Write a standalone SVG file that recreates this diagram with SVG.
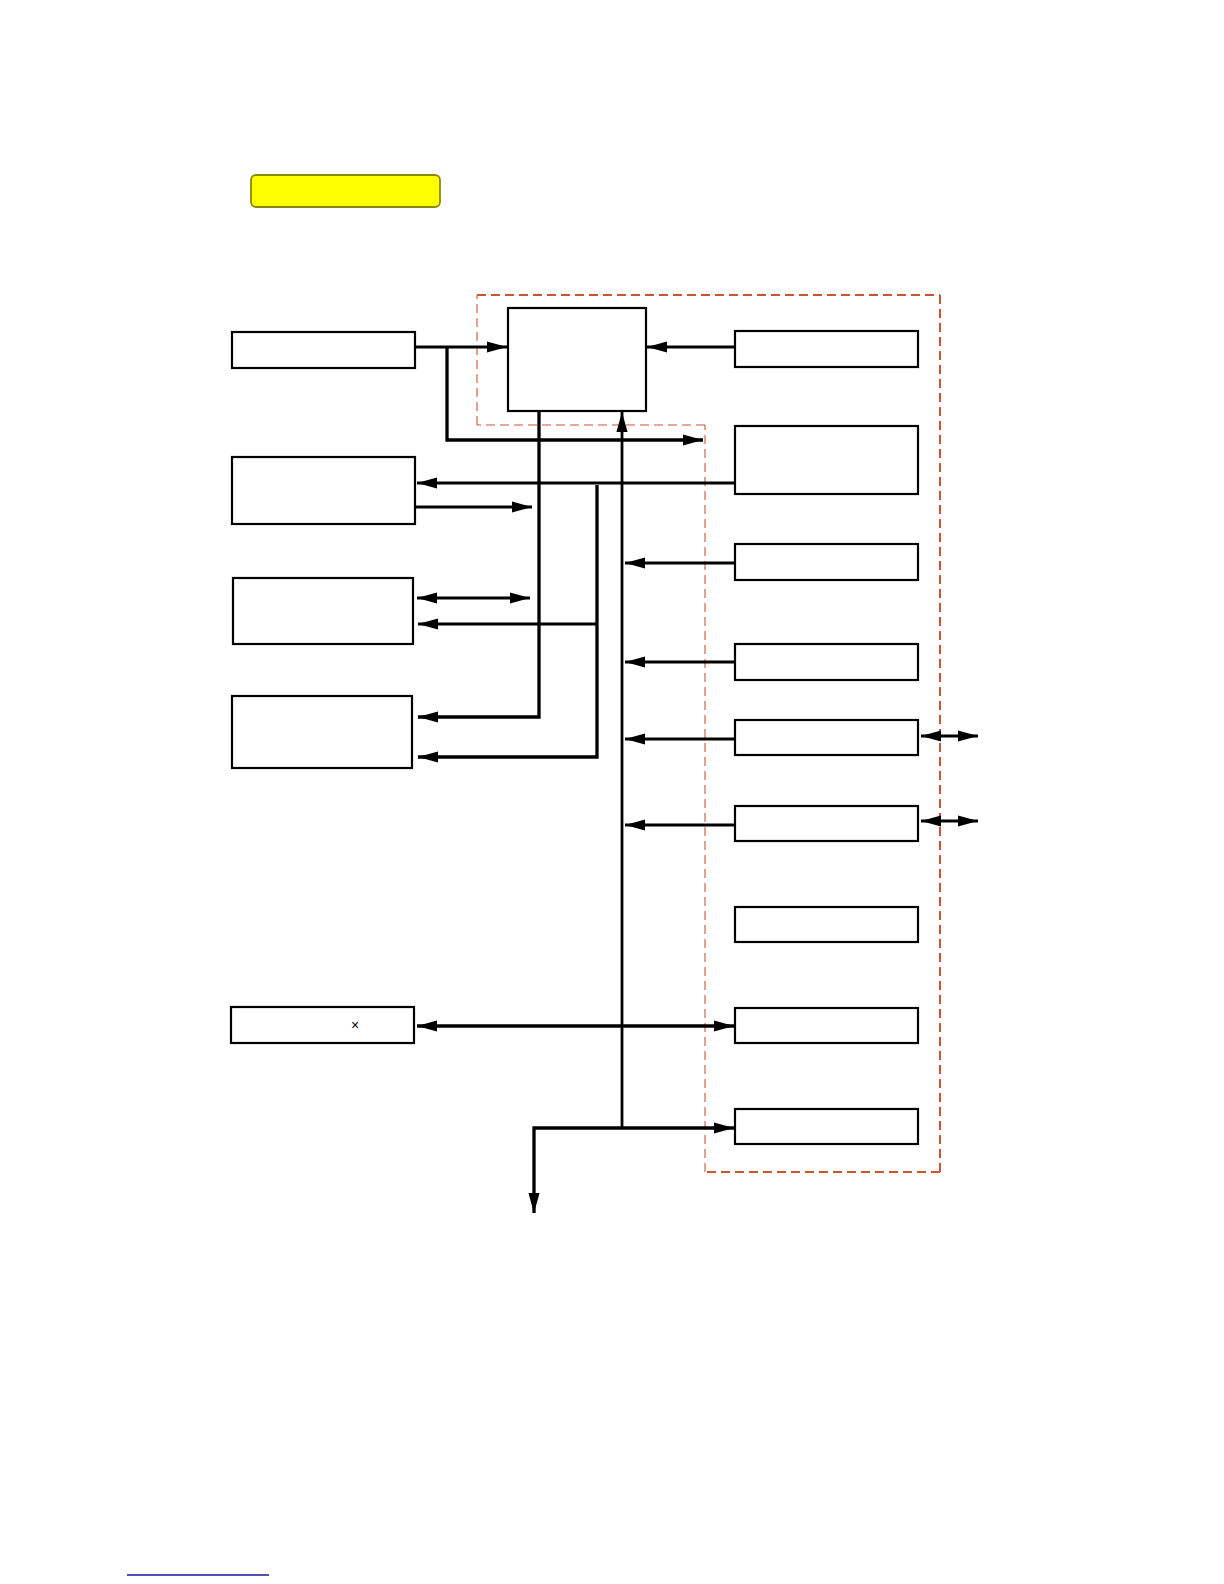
<svg xmlns="http://www.w3.org/2000/svg" width="1224" height="1584" viewBox="0 0 1224 1584">
<style>
.box{fill:#fff;stroke:#000;stroke-width:2.2}
.c{fill:none;stroke:#000;stroke-width:2.8}
.ct{fill:none;stroke:#000;stroke-width:3.3}
.dth{fill:none;stroke:#cc5533;stroke-width:2;stroke-dasharray:9 5}
.dtn{fill:none;stroke:#cc5533;stroke-width:1.1;stroke-dasharray:9 5}
.lbl{font-family:"Liberation Sans",Arial,sans-serif;font-size:14px;fill:#000}
</style>
<defs>
<marker id="ah" markerUnits="userSpaceOnUse" markerWidth="20" markerHeight="12" viewBox="0 0 18 10" refX="18" refY="5" orient="auto-start-reverse">
<path d="M0,0 L18,5 L0,10 z" fill="#000"/>
</marker>
</defs>
<rect width="1224" height="1584" fill="#fff"/>
<g id="title">
<rect x="251" y="175" width="189" height="32" rx="5" fill="#ffff00" stroke="#8a8a00" stroke-width="1.8"/>
</g>
<g id="region">
<line class="dth" x1="477" y1="295" x2="940" y2="295"/>
<line class="dth" x1="940" y1="295" x2="940" y2="1172"/>
<line class="dth" x1="940" y1="1172" x2="705" y2="1172"/>
<line class="dtn" x1="705" y1="1172" x2="705" y2="425"/>
<line class="dtn" x1="705" y1="425" x2="477" y2="425"/>
<line class="dtn" x1="477" y1="425" x2="477" y2="295"/>
</g>
<g id="n-cpu"><rect class="box" x="508" y="308" width="138" height="103"/></g>
<g id="n-a"><rect class="box" x="232" y="332" width="183" height="36"/></g>
<g id="n-b"><rect class="box" x="232" y="457" width="183" height="67"/></g>
<g id="n-c"><rect class="box" x="233" y="578" width="180" height="66"/></g>
<g id="n-d"><rect class="box" x="232" y="696" width="180" height="72"/></g>
<g id="n-e"><rect class="box" x="231" y="1007" width="183" height="36"/><text class="lbl" x="355" y="1030" text-anchor="middle">×</text></g>
<g id="n-r1"><rect class="box" x="735" y="331" width="183" height="36"/></g>
<g id="n-r2"><rect class="box" x="735" y="426" width="183" height="68"/></g>
<g id="n-r3"><rect class="box" x="735" y="544" width="183" height="36"/></g>
<g id="n-r4"><rect class="box" x="735" y="644" width="183" height="36"/></g>
<g id="n-r5"><rect class="box" x="735" y="720" width="183" height="35"/></g>
<g id="n-r6"><rect class="box" x="735" y="806" width="183" height="35"/></g>
<g id="n-r7"><rect class="box" x="735" y="907" width="183" height="35"/></g>
<g id="n-r8"><rect class="box" x="735" y="1008" width="183" height="35"/></g>
<g id="n-r9"><rect class="box" x="735" y="1109" width="183" height="35"/></g>
<g id="connectors">
<path class="c" d="M415,347 L507,347" marker-end="url(#ah)"/>
<path class="ct" d="M447,347 L447,440 L703,440" marker-end="url(#ah)"/>
<path class="c" d="M735,347 L647,347" marker-end="url(#ah)"/>
<path class="ct" d="M539,410 L539,717 L418,717" marker-end="url(#ah)"/>
<path class="c" d="M734,483 L417,483" marker-end="url(#ah)"/>
<path class="c" d="M415,507 L532,507" marker-end="url(#ah)"/>
<path class="c" d="M417,598 L530,598" marker-start="url(#ah)" marker-end="url(#ah)"/>
<path class="ct" d="M597,485 L597,757 L418,757" marker-end="url(#ah)"/>
<path class="c" d="M597,624 L418,624" marker-end="url(#ah)"/>
<path class="c" d="M622,1129 L622,412" marker-end="url(#ah)"/>
<path class="c" d="M734,563 L625,563" marker-end="url(#ah)"/>
<path class="c" d="M734,662 L625,662" marker-end="url(#ah)"/>
<path class="c" d="M734,739 L625,739" marker-end="url(#ah)"/>
<path class="c" d="M734,825 L625,825" marker-end="url(#ah)"/>
<path class="c" d="M921,736 L978,736" marker-start="url(#ah)" marker-end="url(#ah)"/>
<path class="c" d="M921,821 L978,821" marker-start="url(#ah)" marker-end="url(#ah)"/>
<path class="ct" d="M417,1026 L734,1026" marker-start="url(#ah)" marker-end="url(#ah)"/>
<path class="ct" d="M534,1213 L534,1128 L734,1128" marker-start="url(#ah)" marker-end="url(#ah)"/>
</g>
<line x1="127" y1="1575" x2="269" y2="1575" stroke="#1a1a99" stroke-width="1.3"/>
</svg>
